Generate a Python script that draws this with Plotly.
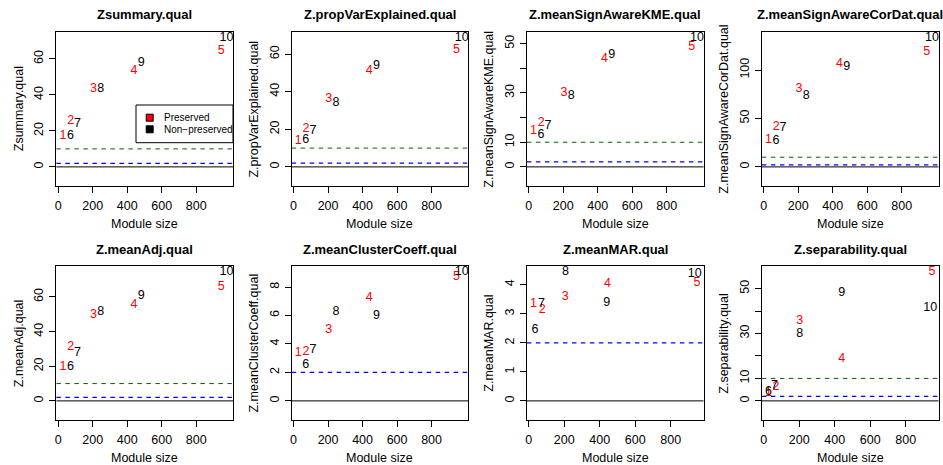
import plotly.graph_objects as go

# ---------------- data ----------------
PANEL_TITLES = ["Zsummary.qual", "Z.propVarExplained.qual", "Z.meanSignAwareKME.qual",
                "Z.meanSignAwareCorDat.qual", "Z.meanAdj.qual", "Z.meanClusterCoeff.qual",
                "Z.meanMAR.qual", "Z.separability.qual"]
X_TITLE = "Module size"
LEGEND_LABELS = ["Preserved", "Non\u2212preserved"]

PRESERVED_LABELS = ["1", "2", "3", "4", "5"]
NONPRESERVED_LABELS = ["6", "7", "8", "9", "10"]

# module sizes (x) used in the panels
SIZE_PRES = [27, 72, 204, 439, 945]
SIZE_NONPRES = [71, 112, 246, 481, 975]
MAR_SIZE_PRES = [26, 76, 205, 443, 948]
MAR_SIZE_NONPRES = [35, 72, 207, 439, 935]
SEP_SIZE_PRES = [26, 69, 202, 439, 948]
SEP_SIZE_NONPRES = [26, 60, 202, 439, 938]

# statistic values (y)
ZSUMMARY_PRES = [17.4, 25.8, 43.2, 53.4, 64.6]
ZSUMMARY_NONPRES = [17.4, 23.8, 43.2, 57.6, 71.8]
PROPVAR_PRES = [13.8, 20.4, 35.9, 51.0, 62.1]
PROPVAR_NONPRES = [14.6, 19.0, 34.3, 53.6, 68.7]
KME_PRES = [14.6, 18.0, 30.2, 43.8, 48.8]
KME_NONPRES = [12.9, 16.5, 28.9, 45.4, 52.4]
CORDAT_PRES = [27.6, 41.4, 80.3, 105.9, 119.0]
CORDAT_NONPRES = [26.6, 40.3, 73.4, 103.4, 133.4]
MEANADJ_PRES = [19.8, 31.3, 49.6, 55.6, 66.0]
MEANADJ_NONPRES = [19.8, 27.7, 51.5, 60.4, 74.6]
CLUSTCOEF_PRES = [3.35, 3.42, 4.98, 7.27, 8.75]
CLUSTCOEF_NONPRES = [2.53, 3.58, 6.29, 5.94, 9.08]
MAR_PRES = [3.33, 3.12, 3.59, 4.02, 4.06]
MAR_NONPRES = [2.46, 3.33, 4.45, 3.37, 4.39]
SEP_PRES = [3.6, 6.2, 35.7, 18.6, 57.5]
SEP_NONPRES = [4.0, 6.6, 30.0, 47.9, 41.6]

# thresholds
THRESH_ZERO = 0
THRESH_LOW = 2
THRESH_HIGH = 10

# tick values / labels
X_TICKS = [0, 200, 400, 600, 800]
Y_TICKS_A = [0, 20, 40, 60]
Y_TICKS_B = [0, 10, 20, 30, 40, 50]
Y_TICKTEXT_B = ["0", "10", "", "30", "", "50"]
Y_TICKS_C = [0, 50, 100]
Y_TICKS_D = [0, 2, 4, 6, 8]
Y_TICKS_E = [0, 1, 2, 3, 4]

PANELS = [
    (SIZE_PRES, ZSUMMARY_PRES, SIZE_NONPRES, ZSUMMARY_NONPRES, Y_TICKS_A, [str(v) for v in Y_TICKS_A]),
    (SIZE_PRES, PROPVAR_PRES, SIZE_NONPRES, PROPVAR_NONPRES, Y_TICKS_A, [str(v) for v in Y_TICKS_A]),
    (SIZE_PRES, KME_PRES, SIZE_NONPRES, KME_NONPRES, Y_TICKS_B, Y_TICKTEXT_B),
    (SIZE_PRES, CORDAT_PRES, SIZE_NONPRES, CORDAT_NONPRES, Y_TICKS_C, [str(v) for v in Y_TICKS_C]),
    (SIZE_PRES, MEANADJ_PRES, SIZE_NONPRES, MEANADJ_NONPRES, Y_TICKS_A, [str(v) for v in Y_TICKS_A]),
    (SIZE_PRES, CLUSTCOEF_PRES, SIZE_NONPRES, CLUSTCOEF_NONPRES, Y_TICKS_D, [str(v) for v in Y_TICKS_D]),
    (MAR_SIZE_PRES, MAR_PRES, MAR_SIZE_NONPRES, MAR_NONPRES, Y_TICKS_E, [str(v) for v in Y_TICKS_E]),
    (SEP_SIZE_PRES, SEP_PRES, SEP_SIZE_NONPRES, SEP_NONPRES, Y_TICKS_B, Y_TICKTEXT_B),
]

# ---------------- styling / layout ----------------
W, H = 943, 465
FONT = "Liberation Sans, Arial, Helvetica, sans-serif"
FS = 12.5
COL_LEFT = [54.5, 290.3, 526.0, 761.5]
PLOT_W = 177.0
ROW_TOP = [32.0, 266.0]
PLOT_H = 153.5


def px(x):
    return x / W


def py(y):
    return 1 - y / H


fig = go.Figure()
layout = dict(
    width=W, height=H, margin=dict(l=0, r=0, t=0, b=0),
    paper_bgcolor="white", plot_bgcolor="white", showlegend=False,
    font=dict(family=FONT, size=FS, color="black"),
)
annotations = []
shapes = []

for i, (xp, yp, xn, yn, ytv, ytt) in enumerate(PANELS):
    row, col = divmod(i, 4)
    left = COL_LEFT[col]
    top = ROW_TOP[row]
    k = "" if i == 0 else str(i + 1)
    xa, ya = "x" + k, "y" + k

    xs = xp + xn
    xmin, xmax = min(xs), max(xs)
    xpad = 0.04 * (xmax - xmin)
    ymax = max(yp + yn)
    ymin = -0.1 * ymax
    ypad = 0.04 * (ymax - ymin)
    yr = [ymin - ypad, ymax + ypad]

    axis_common = dict(
        showgrid=False, zeroline=False, showline=True, mirror=True,
        linecolor="black", linewidth=1, ticks="outside", ticklen=6,
        tickcolor="black", tickwidth=1, tickfont=dict(size=FS, family=FONT),
    )
    layout["xaxis" + k] = dict(
        axis_common, domain=[px(left), px(left + PLOT_W)], anchor=ya,
        range=[xmin - xpad, xmax + xpad], tickmode="array", tickvals=X_TICKS,
        ticktext=[str(v) for v in X_TICKS], ticklabelstandoff=2,
    )
    layout["yaxis" + k] = dict(
        axis_common, domain=[py(top + PLOT_H), py(top)], anchor=xa,
        range=yr, tickmode="array", tickvals=ytv, ticktext=ytt, tickangle=-90,
        ticklabelstandoff=1,
    )

    fig.add_trace(go.Scatter(
        x=xp, y=yp, mode="text", text=PRESERVED_LABELS, textposition="middle center",
        textfont=dict(color="#FF0000", size=FS, family=FONT), xaxis=xa, yaxis=ya,
        hoverinfo="skip", cliponaxis=False))
    fig.add_trace(go.Scatter(
        x=xn, y=yn, mode="text", text=NONPRESERVED_LABELS, textposition="middle center",
        textfont=dict(color="black", size=FS, family=FONT), xaxis=xa, yaxis=ya,
        hoverinfo="skip", cliponaxis=False))

    # threshold lines
    shapes.append(dict(type="line", xref=xa + " domain", yref=ya, x0=0, x1=1,
                       y0=THRESH_ZERO, y1=THRESH_ZERO, line=dict(color="black", width=1)))
    if yr[0] < THRESH_LOW < yr[1]:
        shapes.append(dict(type="line", xref=xa + " domain", yref=ya, x0=0, x1=1,
                           y0=THRESH_LOW, y1=THRESH_LOW,
                           line=dict(color="#0000FF", width=1.2, dash="4.5px,4.5px")))
    if yr[0] < THRESH_HIGH < yr[1]:
        shapes.append(dict(type="line", xref=xa + " domain", yref=ya, x0=0, x1=1,
                           y0=THRESH_HIGH, y1=THRESH_HIGH,
                           line=dict(color="#006400", width=1, dash="4.5px,4.5px")))

    # title and axis titles
    annotations.append(dict(text="<b>" + PANEL_TITLES[i] + "</b>", xref="paper", yref="paper",
                            x=px(left + PLOT_W / 2), y=py(top - 17), showarrow=False,
                            xanchor="center", yanchor="middle",
                            font=dict(size=13, family=FONT, color="black")))
    annotations.append(dict(text=X_TITLE, xref="paper", yref="paper",
                            x=px(left + PLOT_W / 2), y=py(top + PLOT_H + 38), showarrow=False,
                            xanchor="center", yanchor="middle",
                            font=dict(size=FS, family=FONT, color="black")))
    annotations.append(dict(text=PANEL_TITLES[i], xref="paper", yref="paper",
                            x=px(left - 38), y=py(top + PLOT_H / 2), showarrow=False,
                            xanchor="center", yanchor="middle", textangle=-90,
                            font=dict(size=FS, family=FONT, color="black")))

# legend in first panel
LB = dict(x0=134.3, x1=231.5, y0=105.0, y1=142.7)
shapes.append(dict(type="rect", xref="paper", yref="paper",
                   x0=px(LB["x0"]), x1=px(LB["x1"]), y0=py(LB["y1"]), y1=py(LB["y0"]),
                   line=dict(color="black", width=1), fillcolor="white", layer="below"))
for j, (lab, colr) in enumerate(zip(LEGEND_LABELS, ["#FF0000", "black"])):
    cy = 117.7 + j * 11.6
    shapes.append(dict(type="rect", xref="paper", yref="paper",
                       x0=px(144.5), x1=px(151.5), y0=py(cy + 3.5), y1=py(cy - 3.5),
                       line=dict(color="black", width=1), fillcolor=colr))
    annotations.append(dict(text=lab, xref="paper", yref="paper", x=px(160.5), y=py(cy),
                            showarrow=False, xanchor="left", yanchor="middle",
                            font=dict(size=10, family=FONT, color="black")))

layout["annotations"] = annotations
layout["shapes"] = shapes
fig.update_layout(**layout)
fig.write_html("out.html", config={"displayModeBar": False},
               post_script="document.body.style.margin='0px';document.body.style.padding='0px';")
